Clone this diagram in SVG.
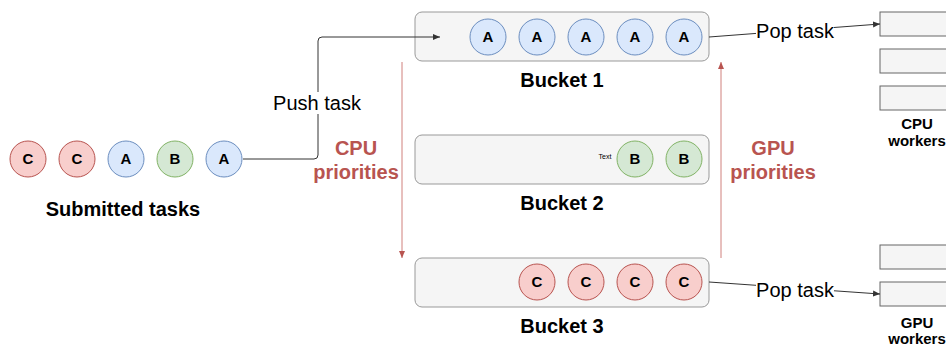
<svg xmlns="http://www.w3.org/2000/svg" width="946" height="345" viewBox="0 0 946 345">
<defs>
<style>
text{font-family:"Liberation Sans",Arial,sans-serif}
.ci{font-size:15px;font-weight:bold;text-anchor:middle;fill:#000}
.a{fill:#dae8fc;stroke:#6c8ebf}
.b{fill:#d5e8d4;stroke:#82b366}
.c{fill:#f8cecc;stroke:#b85450}
.bk{fill:#f5f5f5;stroke:#999;stroke-width:1}
.wk{fill:#f5f5f5;stroke:#666;stroke-width:1}
.ttl{font-size:20px;font-weight:bold;text-anchor:middle;fill:#000}
.wl{font-size:15px;font-weight:bold;text-anchor:middle;fill:#000}
.pr{font-size:20px;font-weight:bold;text-anchor:middle;fill:#b85450}
.lbl{font-size:20px;text-anchor:middle;fill:#000}
.ln{fill:none;stroke:#333;stroke-width:1}
.rl{fill:none;stroke:#d0807c;stroke-width:1}
</style>
<marker id="ah" markerWidth="8" markerHeight="8" refX="7" refY="4" orient="auto" markerUnits="userSpaceOnUse"><path d="M0,1 L7,4 L0,7 Z" fill="#333"/></marker>
<marker id="ahr" markerWidth="8" markerHeight="8" refX="7" refY="4" orient="auto" markerUnits="userSpaceOnUse"><path d="M0,1 L7,4 L0,7 Z" fill="#b85450"/></marker>
</defs>
<g id="submitted">
<circle class="c" cx="28" cy="159" r="18"/><text class="ci" x="28" y="164">C</text>
<circle class="c" cx="77" cy="159" r="18"/><text class="ci" x="77" y="164">C</text>
<circle class="a" cx="126" cy="159" r="18"/><text class="ci" x="126" y="164">A</text>
<circle class="b" cx="175" cy="159" r="18"/><text class="ci" x="175" y="164">B</text>
<circle class="a" cx="224" cy="159" r="18"/><text class="ci" x="224" y="164">A</text>
<text class="ttl" x="123" y="216">Submitted tasks</text>
</g>
<g id="bucket1">
<rect class="bk" x="415" y="12" width="294" height="49" rx="7"/>
<circle class="a" cx="488" cy="37" r="18"/><text class="ci" x="488" y="42">A</text>
<circle class="a" cx="537" cy="37" r="18"/><text class="ci" x="537" y="42">A</text>
<circle class="a" cx="586" cy="37" r="18"/><text class="ci" x="586" y="42">A</text>
<circle class="a" cx="635" cy="37" r="18"/><text class="ci" x="635" y="42">A</text>
<circle class="a" cx="684" cy="37" r="18"/><text class="ci" x="684" y="42">A</text>
<text class="ttl" x="562" y="87">Bucket 1</text>
</g>
<g id="bucket2">
<rect class="bk" x="415" y="135" width="294" height="49" rx="7"/>
<text x="605" y="159" font-size="7" text-anchor="middle" fill="#000">Text</text>
<circle class="b" cx="635" cy="159" r="18"/><text class="ci" x="635" y="164">B</text>
<circle class="b" cx="684" cy="159" r="18"/><text class="ci" x="684" y="164">B</text>
<text class="ttl" x="562" y="210">Bucket 2</text>
</g>
<g id="bucket3">
<rect class="bk" x="415" y="258" width="294" height="49" rx="7"/>
<circle class="c" cx="537" cy="282" r="18"/><text class="ci" x="537" y="287">C</text>
<circle class="c" cx="586" cy="282" r="18"/><text class="ci" x="586" y="287">C</text>
<circle class="c" cx="635" cy="282" r="18"/><text class="ci" x="635" y="287">C</text>
<circle class="c" cx="684" cy="282" r="18"/><text class="ci" x="684" y="287">C</text>
<text class="ttl" x="562" y="333">Bucket 3</text>
</g>
<g id="cpu-workers">
<rect class="wk" x="880" y="12" width="70" height="24"/>
<rect class="wk" x="880" y="49" width="70" height="24"/>
<rect class="wk" x="880" y="86" width="70" height="24"/>
<text class="wl" x="917" y="129">CPU</text>
<text class="wl" x="917" y="146">workers</text>
</g>
<g id="gpu-workers">
<rect class="wk" x="880" y="245" width="70" height="24"/>
<rect class="wk" x="880" y="282" width="70" height="24"/>
<text class="wl" x="917" y="328">GPU</text>
<text class="wl" x="917" y="344">workers</text>
</g>
<g id="connectors">
<path class="ln" d="M243,159 H314 Q318,159 318,155 V41 Q318,37 322,37 H440" marker-end="url(#ah)"/>
<rect x="272" y="92" width="90" height="22" fill="#fff"/>
<text class="lbl" x="317" y="110">Push task</text>
<path class="ln" d="M709,37 L880,24" marker-end="url(#ah)"/>
<rect x="756" y="20" width="78" height="22" fill="#fff"/>
<text class="lbl" x="795" y="38">Pop task</text>
<path class="ln" d="M709,282 L880,294" marker-end="url(#ah)"/>
<rect x="756" y="279" width="78" height="22" fill="#fff"/>
<text class="lbl" x="795" y="297">Pop task</text>
<path class="rl" d="M402,62 V258" marker-end="url(#ahr)"/>
<path class="rl" d="M721,258 V62" marker-end="url(#ahr)"/>
<text class="pr" x="356" y="155">CPU</text>
<text class="pr" x="356" y="179">priorities</text>
<text class="pr" x="773" y="155">GPU</text>
<text class="pr" x="773" y="179">priorities</text>
</g>
</svg>
